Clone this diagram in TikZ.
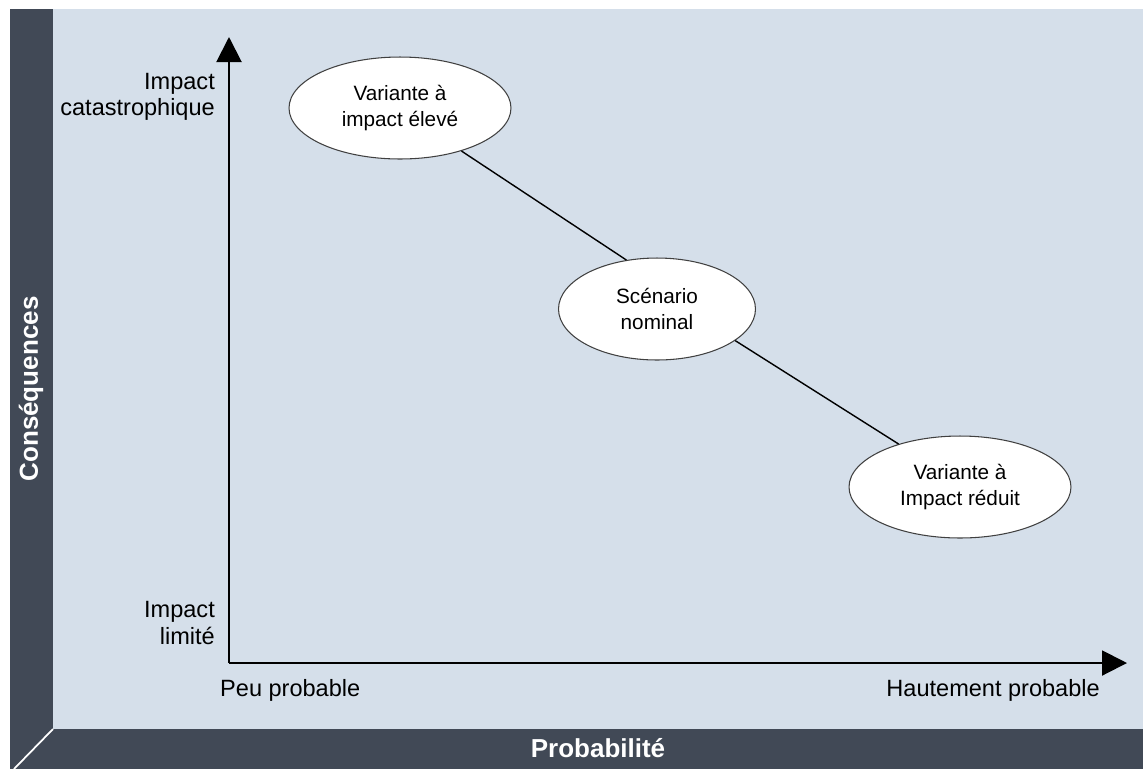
\documentclass[tikz,border=0pt]{standalone}
\usepackage{fontspec}
\setmainfont{Liberation Sans}
\usetikzlibrary{shapes.geometric,arrows.meta}
\definecolor{bandgray}{HTML}{414956}
\definecolor{fieldblue}{HTML}{D5DFEA}
\definecolor{rimgray}{HTML}{404040}

\begin{document}
\begin{tikzpicture}[x=0.02cm,y=-0.02cm,
    axis/.style={line width=1.15pt,-{Triangle[length=0.5cm,width=0.5cm]}},
    scen/.style={ellipse,draw=rimgray,line width=0.6pt,fill=white,
        inner sep=0pt,minimum height=2.04cm,align=center,
        font=\fontsize{11.8}{14.8}\selectfont},
    link/.style={line width=0.8pt},
    lbl/.style={font=\fontsize{13.4}{14.8}\selectfont},
    band/.style={text=white,font=\fontsize{14.8}{17}\selectfont\bfseries}]
    \useasboundingbox (0,0) rectangle (1143,769);
    % background and bands
    \fill[fieldblue] (53,9) rectangle (1143,729);
    \fill[bandgray] (10,9) rectangle (53,769);
    \fill[bandgray] (10,729) rectangle (1143,769);
    \draw[white,line width=1pt] (53,729) -- (14,769);
    \node[band,rotate=90] (YT) at (31,389) {Conséquences};
    \node[band] (XT) at (598,748) {Probabilité};
    % axes
    \coordinate (O) at (229,663);
    \coordinate (Ytop) at (229,37);
    \coordinate (Xend) at (1127,663);
    \draw[axis] (O) -- (Ytop);
    \draw[axis] (O) -- (Xend);
    \node[lbl,align=right,anchor=east] (Y1) at (221,97) {Impact\\catastrophique};
    \node[lbl,align=right,anchor=east] (Y0) at (221,623) {Impact\\limité};
    \node[lbl,anchor=west] (X0) at (214,690) {Peu probable};
    \node[lbl,anchor=east] (X1) at (1106,690) {Hautement probable};
    % scenarios
    \node[scen,minimum width=4.44cm] (E1) at (400,108) {Variante à\\impact élevé};
    \node[scen,minimum width=3.94cm] (E2) at (657,309) {Scénario\\nominal};
    \node[scen,minimum width=4.44cm] (E3) at (960,487) {Variante à\\Impact réduit};
    \draw[link] (E1.-35) -- (E2.122);
    \draw[link] (E2.-22) -- (E3.145);
\end{tikzpicture}
\end{document}
